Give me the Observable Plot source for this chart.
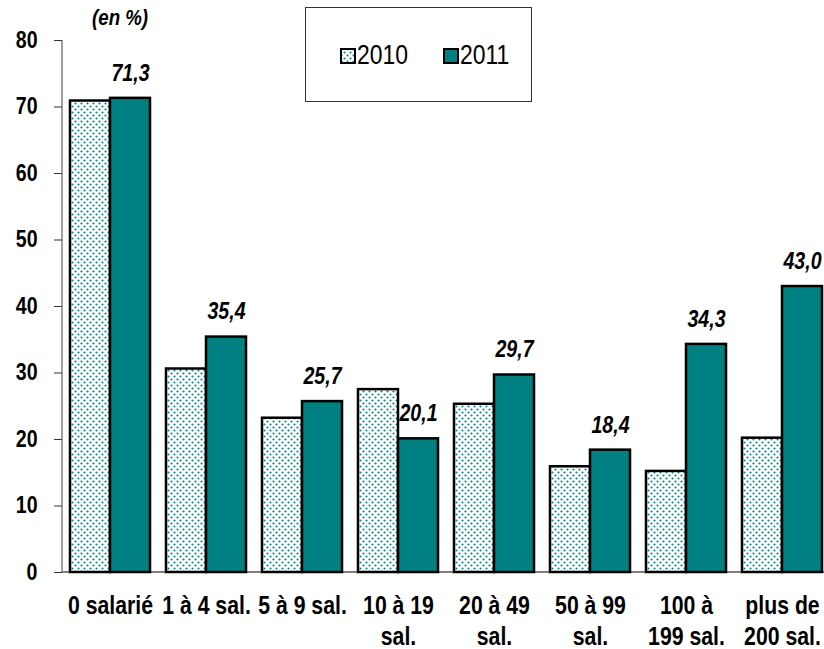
<!DOCTYPE html>
<html>
<head>
<meta charset="utf-8">
<script src="https://cdn.jsdelivr.net/npm/d3@7"></script>
<script src="https://cdn.jsdelivr.net/npm/@observablehq/plot@0.6"></script>
<style>
  html, body { margin: 0; padding: 0; background: #fff; }
  #wrap { position: relative; width: 824px; height: 649px; overflow: hidden; font-family: "Liberation Sans", Arial, sans-serif; }
  #unit { position: absolute; left: 92px; top: 5px; font-size: 22px; font-weight: bold; font-style: italic; transform: scaleX(0.85); transform-origin: left center; white-space: nowrap; }
  #legend { position: absolute; left: 305px; top: 7px; width: 227px; height: 95px; border: 1px solid #333; box-sizing: border-box; background: #fff; }
  .item { position: absolute; top: 34px; display: flex; align-items: center; font-size: 27px; line-height: 1; }
  .item span { display: inline-block; transform: scaleX(0.85); transform-origin: left center; margin-left: 1px; }
</style>
</head>
<body>
<div id="wrap">
  <div id="chart"></div>
  <div id="unit">(en %)</div>
  <div id="legend"></div>
</div>
<script>
const categories = ["0 salarié", "1 à 4 sal.", "5 à 9 sal.", "10 à 19\nsal.", "20 à 49\nsal.", "50 à 99\nsal.", "100 à\n199 sal.", "plus de\n200 sal."];
const years = ["2010", "2011"];
const values2010 = [70.9, 30.6, 23.2, 27.5, 25.3, 15.9, 15.2, 20.2];
const values2011 = [71.3, 35.4, 25.7, 20.1, 29.7, 18.4, 34.3, 43.0];
const yTicks = [0, 10, 20, 30, 40, 50, 60, 70, 80];

const teal = "#008080";
const FONT = '"Liberation Sans", Arial, sans-serif';
const SQUEEZE = 0.85;

const rows2010 = categories.map((c, i) => ({category: c, year: years[0], value: values2010[i]}));
const rows2011 = categories.map((c, i) => ({category: c, year: years[1], value: values2011[i]}));
const fmt = v => v.toFixed(1).replace(".", ",");

const chart = Plot.plot({
  width: 824,
  height: 649,
  marginTop: 40,
  marginBottom: 77,
  marginLeft: 62,
  marginRight: 0,
  style: {fontFamily: FONT, background: "transparent", overflow: "visible"},
  fx: {domain: categories, range: [62, 830], paddingInner: 1 / 6, paddingOuter: 1 / 12, label: null},
  x: {domain: years, padding: 0, axis: null},
  y: {domain: [0, 80], label: null},
  marks: [
    Plot.axisY({ticks: yTicks, dx: -8, tickSize: 8, tickPadding: 17, fontSize: 23, fontWeight: "bold", stroke: "#333", fill: "black", label: null}),
    Plot.barY(rows2010, {fx: "category", x: "year", y: "value", fill: "url(#dots2010)", stroke: "black", strokeWidth: 2.5}),
    Plot.barY(rows2011, {fx: "category", x: "year", y: "value", fill: teal, stroke: "black", strokeWidth: 2.5}),
    Plot.text(rows2011, {fx: "category", x: "year", y: "value", text: d => fmt(d.value), dy: -25, fontSize: 23, fontWeight: "bold", fontStyle: "italic", fill: "black"}),
    Plot.axisFx({anchor: "bottom", tickSize: 0, tickPadding: 19, fontSize: 25, fontWeight: "bold", lineHeight: 1.24, fill: "black", label: null})
  ]
});

// narrow the glyphs like the reference's condensed face (anchor points stay put)
chart.querySelectorAll("text").forEach(t => {
  const tr = t.getAttribute("transform") || "";
  t.setAttribute("transform", (tr + ` scale(${SQUEEZE},1)`).trim());
});

// dotted pattern for 2010 bars
const ns = "http://www.w3.org/2000/svg";
function addPattern(svg, id) {
  const defs = document.createElementNS(ns, "defs");
  const pat = document.createElementNS(ns, "pattern");
  pat.setAttribute("id", id);
  pat.setAttribute("patternUnits", "userSpaceOnUse");
  pat.setAttribute("width", 6);
  pat.setAttribute("height", 6);
  const bg = document.createElementNS(ns, "rect");
  bg.setAttribute("width", 6); bg.setAttribute("height", 6); bg.setAttribute("fill", "white");
  pat.appendChild(bg);
  for (const [cx, cy] of [[1.5, 1.5], [4.5, 4.5]]) {
    const c = document.createElementNS(ns, "circle");
    c.setAttribute("cx", cx); c.setAttribute("cy", cy); c.setAttribute("r", 1.05);
    c.setAttribute("fill", teal);
    pat.appendChild(c);
  }
  defs.appendChild(pat);
  svg.insertBefore(defs, svg.firstChild);
}
addPattern(chart, "dots2010");

// axis lines drawn with the library's scales
const y = chart.scale("y");
const g = document.createElementNS(ns, "g");
const base = document.createElementNS(ns, "line");
base.setAttribute("x1", 62); base.setAttribute("x2", 824);
base.setAttribute("y1", y.apply(0)); base.setAttribute("y2", y.apply(0));
base.setAttribute("stroke", "#808080"); base.setAttribute("stroke-width", 2);
const vline = document.createElementNS(ns, "line");
vline.setAttribute("x1", 62); vline.setAttribute("x2", 62);
vline.setAttribute("y1", y.apply(yTicks[yTicks.length - 1])); vline.setAttribute("y2", y.apply(0));
vline.setAttribute("stroke", "#808080"); vline.setAttribute("stroke-width", 1.5);
g.appendChild(vline); g.appendChild(base);
chart.insertBefore(g, chart.querySelector("defs").nextSibling);

document.getElementById("chart").appendChild(chart);

// legend
const legend = document.getElementById("legend");
const lefts = [34, 137];
years.forEach((yr, i) => {
  const item = document.createElement("div");
  item.className = "item";
  item.style.left = lefts[i] + "px";
  const fill = i === 0 ? "url(#dots2010)" : teal;
  item.innerHTML = `<svg width="16" height="16"><rect x="1" y="1" width="14" height="14" fill="${fill}" stroke="black" stroke-width="2"/></svg><span>${yr}</span>`;
  legend.appendChild(item);
});
</script>
</body>
</html>
